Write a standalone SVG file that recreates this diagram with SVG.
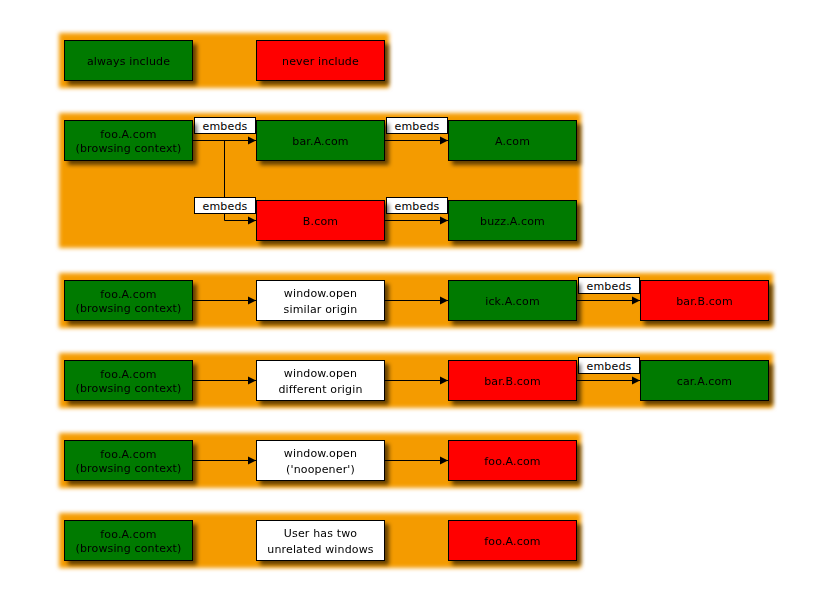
<svg xmlns="http://www.w3.org/2000/svg" width="832" height="600" viewBox="0 0 832 600">
<defs>
<filter id="glow" x="-10%" y="-30%" width="120%" height="160%"><feGaussianBlur stdDeviation="2"/></filter>
<filter id="shadow" x="-10%" y="-20%" width="130%" height="160%"><feDropShadow dx="4" dy="4" stdDeviation="2" flood-color="#000" flood-opacity="0.6"/></filter>
<marker id="arr" markerWidth="9" markerHeight="9" refX="8" refY="4.5" orient="auto" markerUnits="userSpaceOnUse"><path d="M0,0.5 L8,4.5 L0,8.5 Z" fill="#000"/></marker>
<style>
.bg{fill:#f49b05;filter:url(#glow)}
.n rect{stroke:#000;stroke-width:1}
.n{filter:url(#shadow)}
.g{fill:#007a00}.r{fill:#ff0000}.w{fill:#fff}
text{font-family:"DejaVu Sans",Verdana,sans-serif;font-size:11px;letter-spacing:0.15px;fill:#000;text-anchor:middle}
.c line,.c path{stroke:#000;stroke-width:1;fill:none}
.lbl rect{fill:#fff;stroke:#000;stroke-width:1}
</style>
</defs>
<g id="backgrounds">
<rect class="bg" x="59" y="33" width="330" height="55"/>
<rect class="bg" x="59" y="113" width="522" height="135"/>
<rect class="bg" x="59" y="273" width="714" height="55"/>
<rect class="bg" x="59" y="353" width="714" height="55"/>
<rect class="bg" x="59" y="433" width="522" height="55"/>
<rect class="bg" x="59" y="513" width="522" height="55"/>
</g>
<g id="connectors" class="c">
<line x1="192" y1="140.5" x2="256" y2="140.5" marker-end="url(#arr)"/>
<path d="M224.5,140.5 V220.5 H256" marker-end="url(#arr)"/>
<line x1="384" y1="140.5" x2="448" y2="140.5" marker-end="url(#arr)"/>
<line x1="384" y1="220.5" x2="448" y2="220.5" marker-end="url(#arr)"/>
<line x1="192" y1="300.5" x2="256" y2="300.5" marker-end="url(#arr)"/>
<line x1="384" y1="300.5" x2="448" y2="300.5" marker-end="url(#arr)"/>
<line x1="576" y1="300.5" x2="640" y2="300.5" marker-end="url(#arr)"/>
<line x1="192" y1="380.5" x2="256" y2="380.5" marker-end="url(#arr)"/>
<line x1="384" y1="380.5" x2="448" y2="380.5" marker-end="url(#arr)"/>
<line x1="576" y1="380.5" x2="640" y2="380.5" marker-end="url(#arr)"/>
<line x1="192" y1="460.5" x2="256" y2="460.5" marker-end="url(#arr)"/>
<line x1="384" y1="460.5" x2="448" y2="460.5" marker-end="url(#arr)"/>
<g class="lbl"><rect x="194.5" y="117.5" width="61" height="16"/><text x="225" y="129.5">embeds</text></g>
<g class="lbl"><rect x="194.5" y="197.5" width="61" height="16"/><text x="225" y="209.5">embeds</text></g>
<g class="lbl"><rect x="386.5" y="117.5" width="61" height="16"/><text x="417" y="129.5">embeds</text></g>
<g class="lbl"><rect x="386.5" y="197.5" width="61" height="16"/><text x="417" y="209.5">embeds</text></g>
<g class="lbl"><rect x="578.5" y="277.5" width="61" height="16"/><text x="609" y="289.5">embeds</text></g>
<g class="lbl"><rect x="578.5" y="357.5" width="61" height="16"/><text x="609" y="369.5">embeds</text></g>
</g>
<g id="always" class="n"><rect class="g" x="64.5" y="40.5" width="128" height="40"/><text x="128.5" y="64.5">always include</text></g>
<g id="never" class="n"><rect class="r" x="256.5" y="40.5" width="128" height="40"/><text x="320.5" y="64.5">never include</text></g>

<g id="foo2" class="n"><rect class="g" x="64.5" y="120.5" width="128" height="40"/><text x="128.5" y="138">foo.A.com</text><text x="128.5" y="152">(browsing context)</text></g>
<g id="barA" class="n"><rect class="g" x="256.5" y="120.5" width="128" height="40"/><text x="320.5" y="144.5">bar.A.com</text></g>
<g id="Acom" class="n"><rect class="g" x="448.5" y="120.5" width="128" height="40"/><text x="512.5" y="144.5">A.com</text></g>
<g id="Bcom" class="n"><rect class="r" x="256.5" y="200.5" width="128" height="40"/><text x="320.5" y="224.5">B.com</text></g>
<g id="buzz" class="n"><rect class="g" x="448.5" y="200.5" width="128" height="40"/><text x="512.5" y="224.5">buzz.A.com</text></g>

<g id="foo3" class="n"><rect class="g" x="64.5" y="280.5" width="128" height="40"/><text x="128.5" y="298">foo.A.com</text><text x="128.5" y="312">(browsing context)</text></g>
<g id="wsim" class="n"><rect class="w" x="256.5" y="280.5" width="128" height="40"/><text x="320.5" y="297">window.open</text><text x="320.5" y="312.5">similar origin</text></g>
<g id="ick" class="n"><rect class="g" x="448.5" y="280.5" width="128" height="40"/><text x="512.5" y="304.5">ick.A.com</text></g>
<g id="barB3" class="n"><rect class="r" x="640.5" y="280.5" width="128" height="40"/><text x="704.5" y="304.5">bar.B.com</text></g>

<g id="foo4" class="n"><rect class="g" x="64.5" y="360.5" width="128" height="40"/><text x="128.5" y="378">foo.A.com</text><text x="128.5" y="392">(browsing context)</text></g>
<g id="wdiff" class="n"><rect class="w" x="256.5" y="360.5" width="128" height="40"/><text x="320.5" y="377">window.open</text><text x="320.5" y="392.5">different origin</text></g>
<g id="barB4" class="n"><rect class="r" x="448.5" y="360.5" width="128" height="40"/><text x="512.5" y="384.5">bar.B.com</text></g>
<g id="car" class="n"><rect class="g" x="640.5" y="360.5" width="128" height="40"/><text x="704.5" y="384.5">car.A.com</text></g>

<g id="foo5" class="n"><rect class="g" x="64.5" y="440.5" width="128" height="40"/><text x="128.5" y="458">foo.A.com</text><text x="128.5" y="472">(browsing context)</text></g>
<g id="wnoop" class="n"><rect class="w" x="256.5" y="440.5" width="128" height="40"/><text x="320.5" y="457">window.open</text><text x="320.5" y="472.5">('noopener')</text></g>
<g id="fooR5" class="n"><rect class="r" x="448.5" y="440.5" width="128" height="40"/><text x="512.5" y="464.5">foo.A.com</text></g>

<g id="foo6" class="n"><rect class="g" x="64.5" y="520.5" width="128" height="40"/><text x="128.5" y="538">foo.A.com</text><text x="128.5" y="552">(browsing context)</text></g>
<g id="user" class="n"><rect class="w" x="256.5" y="520.5" width="128" height="40"/><text x="320.5" y="537">User has two</text><text x="320.5" y="552.5">unrelated windows</text></g>
<g id="fooR6" class="n"><rect class="r" x="448.5" y="520.5" width="128" height="40"/><text x="512.5" y="544.5">foo.A.com</text></g>
</svg>
